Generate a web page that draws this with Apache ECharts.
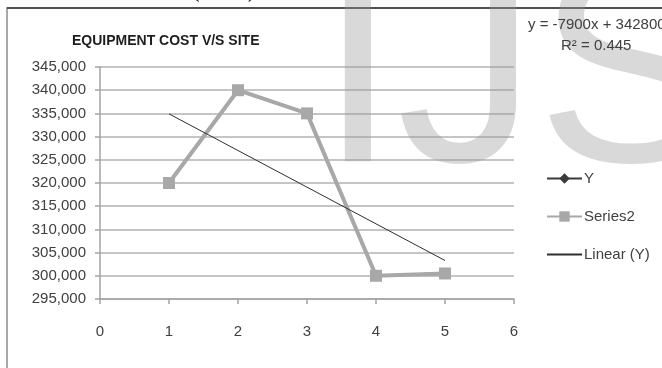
<!DOCTYPE html>
<html>
<head>
<meta charset="utf-8">
<style>
  html, body { margin: 0; padding: 0; background: #ffffff; }
  #chart { width: 662px; height: 368px; }
</style>
<script src="https://cdn.jsdelivr.net/npm/echarts@6/dist/echarts.min.js"></script>
</head>
<body>
<div id="chart"></div>
<script>
// Sites on the x axis
const sites = [1, 2, 3, 4, 5];
// Equipment cost per site
const yValues = [320000, 340000, 335000, 300000, 300500];
const series2Values = [320000, 340000, 335000, 300000, 300500];
// Linear trend of Y, end points at the first and last site
const trendX = [1, 5];
const trendY = [334900, 303300];
const trendEquation = 'y = -7900x + 342800';
const trendR2 = 'R\u00b2 = 0.445';
// Axis ranges
const yTicks = [295000, 345000, 5000];
const xTicks = [0, 6, 1];

const pair = (xs, ys) => xs.map((x, i) => [x, ys[i]]);

const textColor = '#404040';
const font = 'Liberation Sans';

const chart = echarts.init(document.getElementById('chart'), null, { renderer: 'canvas' });

chart.setOption({
  animation: false,
  backgroundColor: '#ffffff',
  title: {
    text: 'EQUIPMENT COST V/S SITE',
    left: 72,
    top: 34,
    padding: 0,
    textStyle: { fontFamily: font, fontWeight: 'bold', fontSize: 14, color: '#1e1e1e' }
  },
  grid: { left: 100, right: 148, top: 67, bottom: 69, containLabel: false },
  legend: {
    orient: 'vertical',
    left: 546,
    top: 171,
    padding: 0,
    itemWidth: 35,
    itemHeight: 13,
    itemGap: 23,
    textStyle: { fontFamily: font, fontSize: 15, color: textColor, padding: [0, 0, 0, -3] },
    data: [
      { name: 'Y' },
      { name: 'Series2' },
      { name: 'Linear (Y)', itemStyle: { opacity: 0 } }
    ]
  },
  xAxis: {
    type: 'value',
    min: xTicks[0],
    max: xTicks[1],
    interval: xTicks[2],
    axisLine: { lineStyle: { color: '#a3a3a3', width: 1.5 } },
    axisTick: { show: true, inside: false, length: 5, lineStyle: { color: '#a3a3a3', width: 1.5 } },
    splitLine: { show: false },
    axisLabel: { margin: 25, fontFamily: font, fontSize: 15, color: textColor }
  },
  yAxis: {
    type: 'value',
    min: yTicks[0],
    max: yTicks[1],
    interval: yTicks[2],
    axisLine: { show: true, lineStyle: { color: '#a3a3a3', width: 1.5 } },
    axisTick: { show: true, inside: false, length: 5, lineStyle: { color: '#a3a3a3', width: 1.5 } },
    splitLine: { show: true, lineStyle: { color: '#b2b2b2', width: 1.5 } },
    axisLabel: {
      margin: 14,
      fontFamily: font,
      fontSize: 15,
      color: textColor,
      formatter: v => v.toLocaleString('en-US')
    }
  },
  series: [
    {
      name: 'Y',
      type: 'line',
      data: pair(sites, yValues),
      symbol: 'diamond',
      symbolSize: 9,
      itemStyle: { color: '#3a3a3a' },
      lineStyle: { color: '#3a3a3a', width: 2.5 },
      z: 2
    },
    {
      name: 'Series2',
      type: 'line',
      data: pair(sites, series2Values),
      symbol: 'rect',
      symbolSize: 12,
      itemStyle: { color: '#a8a8a8' },
      lineStyle: { color: '#a8a8a8', width: 4 },
      z: 3
    },
    {
      name: 'Linear (Y)',
      type: 'line',
      data: pair(trendX, trendY),
      showSymbol: false,
      symbol: 'none',
      itemStyle: { color: '#2e2e2e' },
      lineStyle: { color: '#2e2e2e', width: 1 },
      z: 4
    }
  ],
  graphic: [
    // chart frame
    {
      type: 'rect', z: 0, silent: true,
      shape: { x: 7, y: 8, width: 700, height: 420 },
      style: { fill: 'none', stroke: '#8c8c8c', lineWidth: 1.5 }
    },
    {
      type: 'line', z: 0, silent: true,
      shape: { x1: 7, y1: 8, x2: 662, y2: 8 },
      style: { stroke: '#505050', lineWidth: 2 }
    },
    // heading above the frame
    {
      type: 'text', z: 0, silent: true,
      left: 30, top: -25,
      style: { text: '2.  \u00b7  \u00b7  COST (SSL)', fontFamily: 'Liberation Serif', fontSize: 28, fill: '#111111' }
    },
    // faint page mark
    {
      type: 'text', z: 1, silent: true,
      left: 319, top: -56,
      style: { text: 'IJS', fontFamily: 'Liberation Sans', fontSize: 280, fill: 'rgba(150,150,150,0.36)' }
    },
    // trend equation
    {
      type: 'text', z: 5, silent: true,
      left: 528, top: 17,
      style: { text: trendEquation, fontFamily: font, fontSize: 15, fill: textColor }
    },
    {
      type: 'text', z: 5, silent: true,
      left: 561, top: 38,
      style: { text: trendR2, fontFamily: font, fontSize: 15, fill: textColor }
    }
  ]
});
</script>
</body>
</html>
